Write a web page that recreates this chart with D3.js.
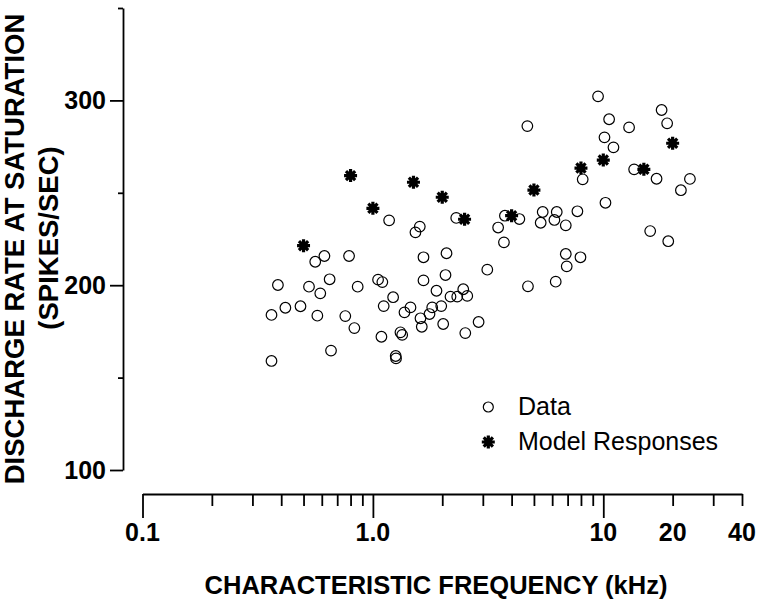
<!DOCTYPE html>
<html>
<head>
<meta charset="utf-8">
<script src="https://cdn.jsdelivr.net/npm/d3@7"></script>
<style>
  html, body { margin: 0; padding: 0; background: #fff; }
  svg { display: block; }
  text { font-family: "Liberation Sans", Arial, Helvetica, sans-serif; fill: #000; }
</style>
</head>
<body>
<svg id="chart" width="764" height="609"></svg>
<script>
// ---- Data (CF in kHz, rate in spikes/sec) ----
const dataFreq = [0.363,0.363,0.387,0.417,0.485,0.528,0.562,0.574,0.591,0.616,
  0.649,0.658,0.759,0.788,0.831,0.859,1.053,1.099,1.089,1.114,
  1.176,1.224,1.256,1.26,1.317,1.34,1.371,1.456,1.53,1.598,
  1.609,1.63,1.658,1.658,1.761,1.809,1.888,1.98,2.019,2.066,
  2.087,2.172,2.30,2.323,2.467,2.518,2.568,2.876,3.137,3.496,
  3.705,3.741,4.322,4.682,4.71,5.349,5.458,6.135,6.216,6.28,
  6.873,6.873,6.938,7.72,7.96,8.14,9.49,10.12,10.22,10.6,
  11.07,12.94,13.61,15.98,17.03,17.91,18.93,19.14,21.72,23.77];
const dataRate = [183.9,159.0,200.1,187.8,188.6,199.2,212.7,183.5,195.6,215.8,
  203.2,164.6,183.3,215.8,176.8,199.2,203.0,201.7,172.1,188.7,
  235.1,193.5,161.7,160.4,174.5,173.1,185.3,188.0,228.6,231.7,
  182.1,177.5,215.1,202.6,184.4,188.0,197.0,188.7,179.0,205.5,
  217.3,193.8,236.4,193.8,197.8,174.1,194.2,180.1,208.4,231.2,
  223.2,237.6,235.8,286.1,199.4,233.8,239.6,235.3,201.9,239.6,
  232.4,216.9,210.2,240.0,215.1,257.3,302.2,280.0,244.6,289.8,
  274.6,285.4,262.7,229.3,257.6,294.8,287.6,223.8,251.4,257.5];

const modelFreq = [0.5,0.8,1.0,1.5,2.0,2.5,4,5,8,10,15,20];
const modelRate = [221.4,259.3,241.6,255.7,247.6,235.7,237.6,251.5,263.4,267.7,262.7,276.8];

const xTickLabels = [{v:0.1,t:"0.1"},{v:1,t:"1.0"},{v:10,t:"10"},{v:20,t:"20"},{v:40,t:"40"}];
const xMajorTicks = [0.1,1,10];
const xMinorTicks = [0.2,0.3,0.4,0.5,0.6,0.7,0.8,0.9,2,3,4,5,6,7,8,9,20,30,40];
const yMajorTicks = [100,200,300];
const yMinorTicks = [150,250,350];

const xTitle = "CHARACTERISTIC FREQUENCY (kHz)";
const yTitle1 = "DISCHARGE RATE AT SATURATION";
const yTitle2 = "(SPIKES/SEC)";
const legendLabels = ["Data","Model Responses"];

// ---- Layout ----
const svg = d3.select("#chart");
const x = d3.scaleLog().domain([0.1,40]).range([142.5,742]);
const y = d3.scaleLinear().domain([100,350]).range([470,8]);
const yAxisX = 123, xAxisY = 494;
const axisStroke = 1.8;

// Y axis
const gy = svg.append("g").attr("transform",`translate(${yAxisX},0)`);
gy.call(d3.axisLeft(y).tickValues(yMinorTicks).tickSize(5).tickSizeOuter(0).tickFormat(""));
const gy2 = svg.append("g").attr("transform",`translate(${yAxisX},0)`);
gy2.call(d3.axisLeft(y).tickValues(yMajorTicks).tickSize(13).tickSizeOuter(0).tickPadding(4).tickFormat(d3.format("d")));
gy2.select(".domain").remove();
[gy,gy2].forEach(g=>{
  g.selectAll("path,line").attr("stroke","#000").attr("stroke-width",axisStroke);
});
gy2.selectAll("text").attr("font-size",25).attr("font-weight","bold")
  .attr("font-family",'"Liberation Sans", Arial, sans-serif').attr("fill","#000");

// X axis
const gx = svg.append("g").attr("transform",`translate(0,${xAxisY})`);
gx.call(d3.axisBottom(x).tickValues(xMinorTicks).tickSize(12).tickSizeOuter(0).tickFormat(""));
const gx2 = svg.append("g").attr("transform",`translate(0,${xAxisY})`);
gx2.call(d3.axisBottom(x).tickValues(xMajorTicks).tickSize(24).tickSizeOuter(0).tickFormat(""));
gx2.select(".domain").remove();
[gx,gx2].forEach(g=>{
  g.selectAll("path,line").attr("stroke","#000").attr("stroke-width",axisStroke);
});
svg.append("g").selectAll("text").data(xTickLabels).join("text")
  .attr("x",d=>x(d.v)).attr("y",541)
  .attr("text-anchor","middle").attr("font-size",25).attr("font-weight","bold")
  .text(d=>d.t);

// Titles
svg.append("text").attr("x",436).attr("y",594).attr("text-anchor","middle")
  .attr("font-size",25.5).attr("font-weight","bold").text(xTitle);
svg.append("text").attr("transform","translate(24,249) rotate(-90)").attr("text-anchor","middle")
  .attr("font-size",27.5).attr("font-weight","bold").text(yTitle1);
svg.append("text").attr("transform","translate(58,238) rotate(-90)").attr("text-anchor","middle")
  .attr("font-size",27.5).attr("font-weight","bold").text(yTitle2);

// Markers
function asterisk(g){
  const L = 6.5;
  const lines = [];
  for(let i=0;i<4;i++){
    const a = i*Math.PI/4;
    lines.push(`M${(-L*Math.cos(a)).toFixed(2)},${(-L*Math.sin(a)).toFixed(2)}L${(L*Math.cos(a)).toFixed(2)},${(L*Math.sin(a)).toFixed(2)}`);
  }
  g.append("path").attr("d",lines.join("")).attr("stroke","#000").attr("stroke-width",3.2).attr("fill","none");
  g.append("circle").attr("r",4).attr("fill","#000");
}

const dataPts = dataFreq.map((f,i)=>({f, r:dataRate[i]}));
svg.append("g").selectAll("circle").data(dataPts).join("circle")
  .attr("cx",d=>x(d.f)).attr("cy",d=>y(d.r)).attr("r",5.3)
  .attr("fill","none").attr("stroke","#000").attr("stroke-width",1.2);

const modelPts = modelFreq.map((f,i)=>({f, r:modelRate[i]}));
svg.append("g").selectAll("g").data(modelPts).join("g")
  .attr("transform",d=>`translate(${x(d.f)},${y(d.r)})`)
  .each(function(){ asterisk(d3.select(this)); });

// Legend
const lg = svg.append("g");
lg.append("circle").attr("cx",488.3).attr("cy",407).attr("r",5)
  .attr("fill","none").attr("stroke","#000").attr("stroke-width",1.2);
asterisk(lg.append("g").attr("transform","translate(488.3,442)"));
lg.selectAll("text").data(legendLabels).join("text")
  .attr("x",518).attr("y",(d,i)=>i===0?414.5:449.5)
  .attr("font-size",25).text(d=>d);
</script>
</body>
</html>
